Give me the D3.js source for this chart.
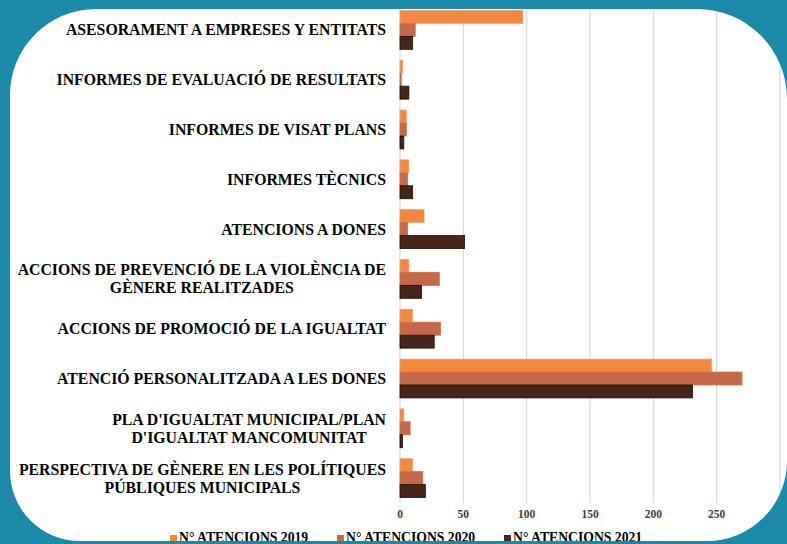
<!DOCTYPE html>
<html>
<head>
<meta charset="utf-8">
<script src="https://cdn.jsdelivr.net/npm/d3@7"></script>
<style>
  html, body { margin: 0; padding: 0; background: #ffffff; }
  svg { display: block; }
  text { font-family: "Liberation Serif", "Times New Roman", serif; font-weight: bold; }
</style>
</head>
<body>
<svg id="chart" width="787" height="544"></svg>
<script>
// ---- data ----
const categories = [
  "ASESORAMENT A EMPRESES Y ENTITATS",
  "INFORMES DE EVALUACIÓ DE RESULTATS",
  "INFORMES DE VISAT PLANS",
  "INFORMES TÈCNICS",
  "ATENCIONS A DONES",
  "ACCIONS DE PREVENCIÓ DE LA VIOLÈNCIA DE|GÈNERE REALITZADES",
  "ACCIONS DE PROMOCIÓ DE LA IGUALTAT",
  "ATENCIÓ PERSONALITZADA A LES DONES",
  "PLA D'IGUALTAT MUNICIPAL/PLAN|D'IGUALTAT MANCOMUNITAT",
  "PERSPECTIVA DE GÈNERE EN LES POLÍTIQUES|PÚBLIQUES MUNICIPALS"
];
const seriesNames = ["N° ATENCIONS 2019", "N° ATENCIONS 2020", "N° ATENCIONS 2021"];
const values2019 = [97, 2, 5, 7, 19, 7, 10, 246, 3, 10];
const values2020 = [12, 1, 5, 6, 6, 31, 32, 270, 8, 18];
const values2021 = [10, 7, 3, 10, 51, 17, 27, 231, 2, 20];
const gridTicks = [0, 50, 100, 150, 200, 250, 300];
const xTickLabels = ["0", "50", "100", "150", "200", "250"];

const seriesValues = [values2019, values2020, values2021];
const fills = ["#F2883E", "#C4694A", "#46261A"];
const strokes = ["#F7A274", "#DD6A3C", "#1E0D07"];

const svg = d3.select("#chart");
const W = 787, H = 544;

svg.append("rect").attr("width", W).attr("height", H).attr("fill", "#ffffff");

const x = d3.scaleLinear().domain([0, 300]).range([400, 780]);
const y = d3.scaleBand().domain(categories).range([5, 503]).paddingInner(0.22).paddingOuter(0.11);
const ySub = d3.scaleBand().domain(d3.range(3)).range([0, y.bandwidth()]);

// gridlines
svg.append("g").selectAll("line").data(gridTicks).join("line")
  .attr("x1", d => x(d)).attr("x2", d => x(d))
  .attr("y1", 5).attr("y2", 503)
  .attr("stroke", "#d9d9d9").attr("stroke-width", 1.2);

// bars
const groups = svg.append("g").selectAll("g").data(categories).join("g")
  .attr("transform", d => `translate(0,${y(d)})`);
groups.selectAll("rect").data((d, i) => seriesValues.map((s, k) => ({k, v: s[i]})))
  .join("rect")
  .attr("x", x(0))
  .attr("y", d => ySub(d.k))
  .attr("width", d => Math.max(0.8, x(d.v) - x(0)))
  .attr("height", ySub.bandwidth())
  .attr("fill", d => fills[d.k])
  .attr("stroke", d => strokes[d.k])
  .attr("stroke-width", 0.8);

// category labels
const labelRight = 386;
const lineH = 18;
const labG = svg.append("g");
categories.forEach(c => {
  const lines = c.split("|");
  const cy = y(c) + y.bandwidth() / 2;
  const texts = lines.map((ln, j) => labG.append("text")
    .attr("y", cy + (j - (lines.length - 1) / 2) * lineH)
    .attr("dy", "0.35em")
    .attr("font-size", 15.8)
    .attr("fill", "#000")
    .attr("text-anchor", "middle")
    .text(ln));
  const widths = texts.map(t => t.node().getComputedTextLength());
  const maxW = d3.max(widths);
  texts.forEach(t => t.attr("x", labelRight - maxW / 2));
});

// x tick labels
svg.append("g").selectAll("text").data(xTickLabels).join("text")
  .attr("x", d => x(+d)).attr("y", 518)
  .attr("text-anchor", "middle")
  .attr("font-size", 11.5)
  .attr("fill", "#404040")
  .text(d => d);

// legend
const legX = [170, 337, 504];
const leg = svg.append("g").selectAll("g").data(seriesNames).join("g")
  .attr("transform", (d, i) => `translate(${legX[i]},0)`);
leg.append("rect").attr("x", 0).attr("y", 535).attr("width", 7).attr("height", 7)
  .attr("fill", (d, i) => fills[i]);
leg.append("text").attr("x", 9).attr("y", 542)
  .attr("font-size", 13.7)
  .attr("fill", "#000")
  .text(d => d);

// teal frame overlay
function rr(l, t, r, b, tl, tr, br, bl) {
  return `M${l + tl},${t} L${r - tr},${t} A${tr},${tr} 0 0 1 ${r},${t + tr} L${r},${b - br} ` +
    `A${br},${br} 0 0 1 ${r - br},${b} L${l + bl},${b} A${bl},${bl} 0 0 1 ${l},${b - bl} ` +
    `L${l},${t + tl} A${tl},${tl} 0 0 1 ${l + tl},${t} Z`;
}
svg.append("path")
  .attr("d", `M0,0 H${W} V${H} H0 Z ` + rr(10, 9, 787, 541, 86, 90, 80, 70))
  .attr("fill", "#1B89A8")
  .attr("fill-rule", "evenodd");
</script>
</body>
</html>
